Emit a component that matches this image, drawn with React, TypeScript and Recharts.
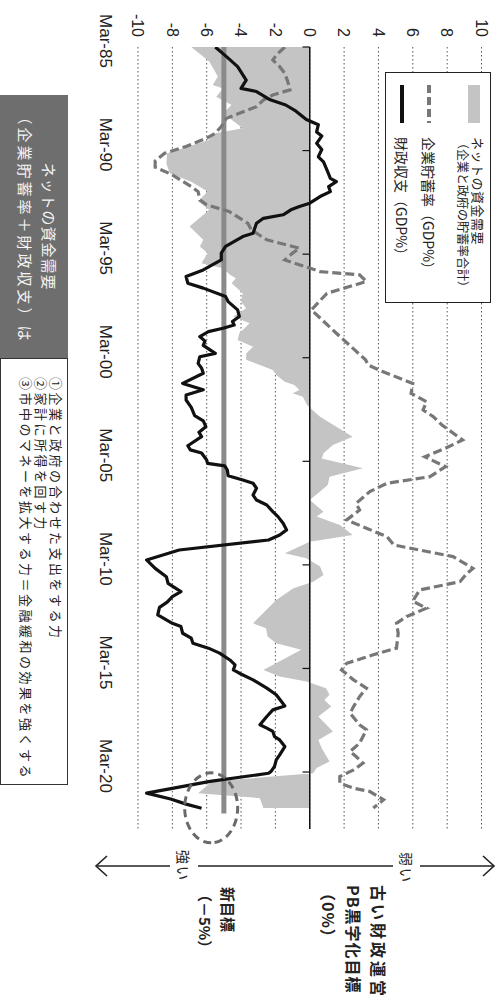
import React from 'react';
import {
  ComposedChart, Line, Area, XAxis, YAxis, CartesianGrid,
  ReferenceLine, ReferenceDot, Legend,
} from 'recharts';

// ---- data (time in years, Mar-85 = 1985.0) ----
const fiscalT = [1985.0,1985.5,1985.95,1986.6,1987.0,1987.15,1987.55,1987.8,1988.1,1988.5,
  1988.75,1989.1,1989.3,1989.65,1989.95,1990.3,1990.55,1990.93,1991.34,1991.5,
  1991.74,1991.98,1992.22,1992.54,1992.7,1992.86,1993.1,1993.27,1993.51,1993.99,
  1994.15,1994.63,1994.95,1995.28,1995.76,1996.08,1996.4,1996.64,1997.05,1997.29,
  1997.69,1998.01,1998.25,1998.42,1998.58,1998.74,1998.98,1999.2,1999.4,1999.79,
  1999.95,2000.27,2000.5,2000.75,2001.24,2001.55,2001.8,2002.04,2002.4,2002.8,
  2003.05,2003.33,2003.6,2003.81,2004.25,2004.45,2004.6,2004.94,2005.1,2005.22,
  2005.42,2005.7,2005.9,2006.06,2006.3,2006.63,2006.87,2007.11,2007.43,2007.67,
  2007.99,2008.31,2008.56,2008.8,2009.28,2009.76,2010.17,2010.57,2010.89,2011.29,
  2011.53,2011.8,2012.05,2012.41,2012.82,2012.98,2013.3,2013.54,2013.78,2014.02,
  2014.26,2014.59,2014.83,2015.07,2015.23,2015.55,2015.95,2016.27,2016.81,2017.0,
  2017.32,2017.72,2017.88,2018.04,2018.29,2018.45,2018.77,2019.17,2019.41,2019.73,
  2019.97,2020.06,2020.45,2021.02,2021.3,2021.55,2021.75];
const fiscalV = [-5.5,-4.8,-4.2,-3.7,-4.0,-3.1,-2.3,-1.4,-0.8,-0.2,
  0.5,0.4,0.7,0.4,0.7,0.5,0.8,1.0,1.2,1.55,
  1.1,1.2,0.6,0.0,-0.6,-1.1,-1.55,-2.7,-3.1,-3.3,
  -3.9,-4.9,-5.15,-5.15,-6.2,-7.2,-7.1,-6.2,-4.9,-4.75,
  -4.2,-4.1,-4.5,-4.4,-5.05,-5.9,-6.4,-6.1,-6.2,-5.5,
  -6.4,-6.5,-6.3,-6.2,-7.4,-6.2,-7.2,-7.2,-6.9,-6.7,
  -6.2,-6.05,-6.45,-6.3,-7.1,-6.95,-6.3,-6.0,-5.95,-4.95,
  -4.8,-4.75,-3.9,-3.3,-3.1,-3.3,-3.1,-2.5,-2.15,-1.85,
  -1.55,-1.35,-1.75,-2.4,-7.6,-9.5,-9.0,-8.35,-8.25,-7.5,
  -8.0,-8.3,-8.75,-8.85,-8.0,-7.5,-7.4,-6.9,-6.8,-5.9,
  -5.25,-4.65,-4.35,-4.45,-4.1,-3.3,-2.5,-1.95,-1.45,-2.15,
  -2.5,-2.9,-2.5,-2.15,-2.05,-1.75,-1.45,-1.75,-1.95,-2.05,
  -2.25,-2.4,-5.8,-9.5,-8.1,-7.2,-6.3];

const corpT = [1985.0,1985.39,1985.63,1985.95,1986.27,1986.75,1987.07,1987.32,1987.56,1987.88,
  1988.2,1988.44,1988.84,1989.16,1989.4,1989.8,1990.13,1990.5,1990.8,1991.17,
  1991.74,1991.98,1992.38,1992.62,1992.94,1993.51,1993.83,1994.31,1994.71,1994.95,
  1995.28,1995.84,1996.0,1996.32,1996.89,1997.69,1998.82,2000.1,2000.35,2000.65,
  2001.24,2001.72,2002.12,2002.52,2002.85,2003.25,2003.97,2004.37,2004.78,2005.26,
  2005.74,2006.06,2006.46,2007.03,2007.35,2007.83,2008.23,2008.64,2009.04,2009.6,
  2010.17,2010.41,2010.81,2011.21,2011.75,2012.09,2012.49,2012.82,2013.3,2014.02,
  2014.34,2014.75,2015.07,2015.55,2015.95,2016.36,2016.84,2017.16,2017.72,2017.96,
  2018.61,2019.01,2019.25,2019.57,2019.9,2020.22,2020.54,2020.78,2020.94,2021.34,
  2021.74];
const corpV = [-1.45,-1.95,-2.15,-1.75,-1.45,-1.25,-1.15,-2.15,-2.7,-3.1,
  -4.1,-4.85,-5.15,-5.5,-6.0,-7.2,-8.45,-9.0,-9.0,-8.0,
  -6.9,-6.5,-6.4,-6.0,-4.7,-3.6,-3.4,-2.5,-0.6,-1.0,
  -1.45,0.6,2.9,3.3,1.0,0.1,1.55,3.25,3.4,4.2,
  6.0,5.9,6.8,6.6,7.2,7.7,8.9,7.9,6.7,7.9,
  7.0,4.5,3.5,2.7,2.9,2.15,3.3,4.5,4.9,8.35,
  9.5,9.15,8.75,6.4,6.0,6.8,5.65,5.05,5.15,5.05,
  3.7,2.15,1.85,2.55,3.3,2.9,2.55,2.35,2.9,3.3,
  2.9,2.35,2.7,3.1,2.55,1.75,1.75,2.55,3.5,4.3,
  3.7];

const netT = [1985.0,1985.7,1986.43,1986.83,1987.0,1987.4,1987.8,1988.2,1988.92,1989.16,
  1989.5,1990.13,1990.61,1991.09,1991.5,1991.98,1992.46,1992.86,1993.67,1994.31,
  1994.63,1994.95,1995.44,1995.68,1996.0,1996.16,1996.4,1996.89,1997.29,1997.61,
  1998.01,1998.33,1998.82,1999.14,1999.47,1999.79,2000.1,2000.59,2000.83,2001.16,
  2001.32,2001.56,2001.72,2001.88,2002.3,2002.85,2003.33,2003.81,2004.21,2004.61,
  2004.86,2005.34,2005.74,2006.14,2006.46,2006.87,2007.43,2007.67,2008.07,2008.56,
  2008.88,2009.44,2009.68,2010.08,2010.49,2010.81,2011.13,2011.69,2012.82,2013.06,
  2013.46,2013.78,2014.1,2015.07,2015.39,2015.63,2015.95,2016.27,2016.52,2016.84,
  2017.32,2018.04,2018.45,2018.85,2019.49,2019.81,2020.06,2020.46,2021.02,2021.26,
  2021.74];
const netV = [-6.9,-5.85,-5.35,-5.65,-5.05,-5.45,-4.55,-5.05,-3.9,-5.5,
  -5.9,-8.3,-8.35,-8.15,-6.9,-5.95,-6.5,-5.85,-7.0,-6.2,
  -6.4,-5.95,-6.3,-5.05,-4.65,-4.3,-4.55,-3.9,-4.0,-3.7,
  -4.45,-3.5,-4.1,-4.2,-3.3,-3.7,-3.7,-2.15,-1.95,-1.45,
  -0.9,-0.6,-1.0,-0.4,-0.15,0.6,1.55,2.5,1.35,0.8,
  0.7,3.1,1.15,1.05,0.6,0.0,0.8,0.4,1.75,2.5,
  0.0,-1.45,-0.2,0.6,0.8,0.2,-0.95,-1.95,-3.3,-2.55,
  -2.45,-1.95,-0.5,-2.7,-1.75,-0.2,0.95,1.15,0.85,1.25,
  0.5,1.35,0.5,0.7,1.15,0.4,0.2,-5.7,-6.5,-2.9,
  -2.7];

const targetT = [1985.0, 2022.0];
const targetV = [-5, -5];

const tickYears = [1985, 1990, 1995, 2000, 2005, 2010, 2015, 2020];
const tickLabels = ['Mar-85', 'Mar-90', 'Mar-95', 'Mar-00', 'Mar-05', 'Mar-10', 'Mar-15', 'Mar-20'];
const valueTicks = [-10, -8, -6, -4, -2, 0, 2, 4, 6, 8, 10];
const timeDomain = [1985, 2022.75];
const circleAt = { t: 2021.73, v: -5.74 };

const legendNet1 = 'ネットの資金需要';
const legendNet2 = '（企業と政府の貯蓄率合計）';
const legendCorp = '企業貯蓄率（GDP%）';
const legendFiscal = '財政収支（GDP%）';

const boxDark1 = 'ネットの資金需要';
const boxDark2 = '（企業貯蓄率＋財政収支）は';
const boxLines = [
  '①企業と政府の合わせた支出をする力',
  '②家計に所得を回す力',
  '③市中のマネーを拡大する力＝金融緩和の効果を強くする',
];
const weakLabel = '弱い';
const strongLabel = '強い';
const oldTarget = ['古い財政運営', 'PB黒字化目標', '（0%）'];
const newTarget = ['新目標', '（－5%）'];

const zip = (ts: number[], vs: number[]) => ts.map((t, i) => ({ t, v: vs[i] }));
const fiscalData = zip(fiscalT, fiscalV);
const corpData = zip(corpT, corpV);
const netData = zip(netT, netV);
const targetData = zip(targetT, targetV);

const W = 1000;
const H = 501;
const JP = '"Noto Sans CJK JP", "Noto Sans", sans-serif';
const LAT = '"Liberation Sans", Arial, sans-serif';

const GRAY_FILL = '#c4c4c4';
const DASH_COLOR = '#777777';
const TARGET_COLOR = '#8a8a8a';

function LegendBox() {
  return (
    <div style={{
      width: 231, height: 106, boxSizing: 'border-box', border: '1.5px solid #222',
      background: '#fff', position: 'relative', fontFamily: JP, color: '#222',
    }}>
      <div style={{ position: 'absolute', left: 12, top: 10, width: 38, height: 12, background: GRAY_FILL }} />
      <div style={{ position: 'absolute', left: 64, top: 4, fontSize: 13, lineHeight: '16px', whiteSpace: 'nowrap', letterSpacing: 0.5 }}>{legendNet1}</div>
      <div style={{ position: 'absolute', left: 64, top: 19, fontSize: 12, lineHeight: '16px', whiteSpace: 'nowrap' }}>{legendNet2}</div>
      <svg style={{ position: 'absolute', left: 12, top: 55 }} width={40} height={12}>
        <line x1={0} y1={6} x2={38} y2={6} stroke={DASH_COLOR} strokeWidth={4} strokeDasharray="8 4" />
      </svg>
      <div style={{ position: 'absolute', left: 64, top: 51, fontSize: 14, lineHeight: '20px', whiteSpace: 'nowrap' }}>{legendCorp}</div>
      <svg style={{ position: 'absolute', left: 12, top: 82 }} width={40} height={12}>
        <line x1={0} y1={6} x2={38} y2={6} stroke="#111" strokeWidth={4} />
      </svg>
      <div style={{ position: 'absolute', left: 64, top: 78, fontSize: 14, lineHeight: '20px', whiteSpace: 'nowrap' }}>{legendFiscal}</div>
    </div>
  );
}

function Annotations() {
  return (
    <>
      {/* dark box */}
      <div style={{
        position: 'absolute', left: 95, top: 433, width: 263, height: 68, background: '#6e6e6e',
        color: '#f4f4f4', fontFamily: JP, fontSize: 15, textAlign: 'center', boxSizing: 'border-box',
      }}>
        <div style={{ position: 'absolute', left: 0, right: 0, top: 8, lineHeight: '22px', letterSpacing: 1 }}>{boxDark1}</div>
        <div style={{ position: 'absolute', left: 0, right: 0, top: 32, lineHeight: '22px', letterSpacing: 3 }}>{boxDark2}</div>
      </div>
      {/* white box */}
      <div style={{
        position: 'absolute', left: 358, top: 433, width: 427, height: 68, background: '#fff',
        border: '1.5px solid #333', boxSizing: 'border-box', fontFamily: JP, fontSize: 13, color: '#222',
      }}>
        {boxLines.map((s, i) => (
          <div key={i} style={{ position: 'absolute', left: 18, top: 3 + i * 15, lineHeight: '16px', whiteSpace: 'nowrap', letterSpacing: 2.5 }}>{s}</div>
        ))}
      </div>
      {/* arrow */}
      <svg style={{ position: 'absolute', left: 0, top: 0, pointerEvents: 'none' }} width={W} height={H}>
        <line x1={866} y1={7} x2={866} y2={405} stroke="#222" strokeWidth={1.6} />
        <polyline points="856,18 866,7 876,18" fill="none" stroke="#222" strokeWidth={1.6} />
        <polyline points="856,394 866,405 876,394" fill="none" stroke="#222" strokeWidth={1.6} />
      </svg>
      <div style={{
        position: 'absolute', left: 848, top: 81, width: 40, height: 27, background: '#fff',
        fontFamily: JP, fontSize: 14, lineHeight: '27px', textAlign: 'center', color: '#222', letterSpacing: 2,
      }}>{weakLabel}</div>
      <div style={{
        position: 'absolute', left: 846, top: 303, width: 40, height: 28, background: '#fff',
        fontFamily: JP, fontSize: 14, lineHeight: '28px', textAlign: 'center', color: '#222', letterSpacing: 2,
      }}>{strongLabel}</div>
      {oldTarget.map((s, i) => (
        <div key={'o' + i} style={{
          position: 'absolute', left: 885, top: 110 + i * 25, fontFamily: JP, fontSize: 16, fontWeight: 700,
          lineHeight: '24px', whiteSpace: 'nowrap', color: '#222', letterSpacing: i === 0 ? 3 : 1,
        }}>{s}</div>
      ))}
      {newTarget.map((s, i) => (
        <div key={'n' + i} style={{
          position: 'absolute', left: 887, top: 261 + i * 23, fontFamily: JP, fontSize: 15, fontWeight: 700,
          lineHeight: '24px', whiteSpace: 'nowrap', color: '#222', letterSpacing: 0,
        }}>{s}</div>
      ))}
    </>
  );
}

const EllipseShape = (props: any) => (
  <ellipse cx={props.cx} cy={props.cy} rx={35} ry={26.5} fill="none" stroke="#6a6a6a"
    strokeWidth={3} strokeDasharray="8 5" />
);

export default function App() {
  return (
    <>
      <style>{'html,body{margin:0;padding:0;overflow:hidden;background:#fff}'}</style>
      <div style={{
        position: 'absolute', left: 0, top: 0, width: W, height: H, background: '#fff',
        transformOrigin: '0 0', transform: `rotate(90deg) translate(0px, -${H}px)`, fontFamily: LAT,
      }}>
        <ComposedChart width={W} height={H} margin={{ top: 19.5, right: 171, bottom: 0, left: 0 }}>
          <CartesianGrid vertical={false} stroke="#555" strokeDasharray="1.5 2.5" />
          <XAxis type="number" dataKey="t" domain={timeDomain} ticks={tickYears} interval={0}
            allowDataOverflow axisLine={false} tickLine={false} tickSize={0} tickMargin={26} height={138}
            tickFormatter={(t: number) => tickLabels[tickYears.indexOf(t)]}
            tick={{ fontSize: 17, fill: '#222', fontFamily: LAT, dx: -6 }} />
          <YAxis type="number" domain={[-10, 10]} ticks={valueTicks} interval={0} width={47}
            axisLine={false} tickLine={false} tickSize={0} tickMargin={10}
            tick={{ fontSize: 16, fill: '#222', fontFamily: LAT }} />
          <Area data={netData} dataKey="v" type="linear" fill={GRAY_FILL} fillOpacity={1} stroke="none"
            baseValue={0} isAnimationActive={false} name={legendNet1} />
          <ReferenceLine y={0} stroke="#111" strokeWidth={1.5} />
          {tickYears.map((t) => (
            <ReferenceLine key={t} segment={[{ x: t, y: 0 }, { x: t, y: -0.42 }]} stroke="#111" strokeWidth={1.2} />
          ))}
          <Line data={targetData} dataKey="v" type="linear" stroke={TARGET_COLOR} strokeWidth={5}
            dot={false} activeDot={false} isAnimationActive={false} legendType="none" />
          <Line data={corpData} dataKey="v" type="linear" stroke={DASH_COLOR} strokeWidth={3.2}
            strokeDasharray="9 4" dot={false} activeDot={false} isAnimationActive={false} name={legendCorp} />
          <Line data={fiscalData} dataKey="v" type="linear" stroke="#111" strokeWidth={3.2}
            dot={false} activeDot={false} isAnimationActive={false} name={legendFiscal} strokeLinejoin="round" />
          <ReferenceDot x={circleAt.t} y={circleAt.v} shape={EllipseShape} />
          <Legend layout="horizontal" verticalAlign="middle" align="center"
            wrapperStyle={{ position: 'absolute', left: 72, top: 10, width: 231, height: 106 }}
            content={() => <LegendBox />} />
        </ComposedChart>
        <Annotations />
      </div>
    </>
  );
}
